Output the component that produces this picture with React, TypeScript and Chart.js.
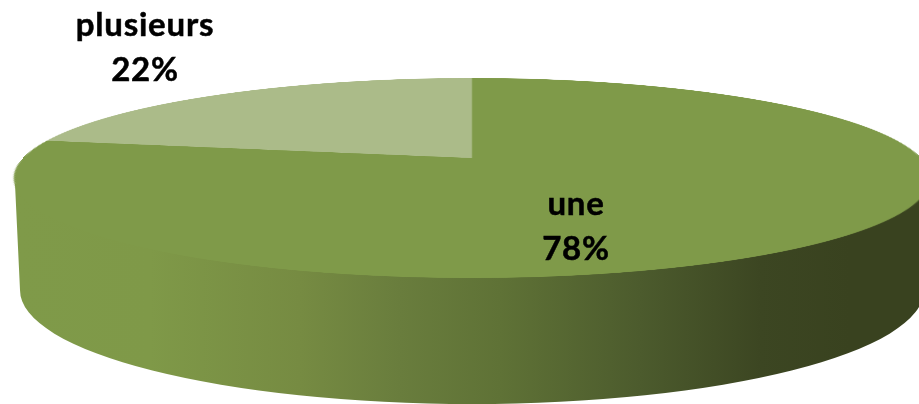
import React, { useEffect, useRef } from "react";
import { Chart, registerables } from "chart.js";

Chart.register(...registerables);

const categories = ["une", "plusieurs"];
const shares = [78, 22];
const sliceColors = ["#7f9a49", "#abbb89"];
const labelCentres = [
  [576, 204],
  [145, 25],
];
const wallStops: [number, string][] = [
  [14, "#7f9a49"],
  [150, "#7f9948"],
  [300, "#768b42"],
  [400, "#697d3d"],
  [500, "#5f7236"],
  [640, "#4c5b2d"],
  [760, "#3c4622"],
  [850, "#39421f"],
  [919, "#39421f"],
];

const CX = 472;
const FACE_D = 449;
const PERSP = 0.2;
const FACE_A = 64.4;
const FACE_B = 158;

const pieProjection = {
  id: "pieProjection",
  beforeDatasetsDraw(chart: any) {
    const ctx: CanvasRenderingContext2D = chart.ctx;
    // side wall
    const grad = ctx.createLinearGradient(0, 0, 919, 0);
    for (const [x, c] of wallStops) grad.addColorStop(x / 919, c);
    ctx.save();
    ctx.fillStyle = grad;
    ctx.beginPath();
    ctx.moveTo(15, 184);
    ctx.lineTo(20, 290);
    ctx.ellipse(CX, 290, 452, 114, 0, Math.PI, 0, true);
    ctx.lineTo(929, 184);
    ctx.closePath();
    ctx.fill();
    ctx.restore();

    // top face: the chart's own arcs, seen in perspective
    const arcs = chart.getDatasetMeta(0).data;
    const R = 1000;
    const off = document.createElement("canvas");
    off.width = R * 2;
    off.height = R * 2;
    const o = off.getContext("2d") as CanvasRenderingContext2D;
    const a0 = arcs[0];
    const k = R / a0.outerRadius;
    o.scale(k, k);
    o.translate(R / k - a0.x, R / k - a0.y);
    arcs.forEach((a: any) => a.draw(o));

    const vAt = (y: number) => (FACE_B - y) / (PERSP * y + FACE_A);
    ctx.save();
    ctx.imageSmoothingEnabled = true;
    ctx.imageSmoothingQuality = "high";
    for (let y = 78; y < 279; y++) {
      const v1 = Math.min(1, vAt(y));
      const v2 = Math.max(-1, vAt(y + 1));
      const vm = (v1 + v2) / 2;
      const w = 1 + PERSP * vm;
      const half = FACE_D / w;
      const sy = R - v1 * R;
      const sh = Math.max(1, (v1 - v2) * R);
      ctx.drawImage(off, 0, sy, R * 2, sh, CX - half, y, half * 2, 1);
    }
    ctx.restore();
    return false;
  },
  afterDraw(chart: any) {
    const ctx: CanvasRenderingContext2D = chart.ctx;
    const values: number[] = chart.data.datasets[0].data;
    const total = values.reduce((s, n) => s + n, 0);
    ctx.save();
    ctx.fillStyle = "#000";
    ctx.strokeStyle = "#000";
    ctx.lineWidth = 0.5;
    ctx.font = "bold 33px Lato";
    (ctx as any).letterSpacing = "0.8px";
    ctx.textAlign = "center";
    ctx.textBaseline = "middle";
    const put = (s: string, x: number, y: number) => {
      ctx.fillText(s, x, y);
      ctx.strokeText(s, x, y);
    };
    chart.data.labels.forEach((name: string, i: number) => {
      const [x, y] = labelCentres[i];
      put(name, x, y);
      put(Math.round((values[i] / total) * 100) + "%", x, y + 45);
    });
    ctx.restore();
  },
};

export default function App() {
  const ref = useRef<HTMLCanvasElement>(null);
  useEffect(() => {
    const chart = new Chart(ref.current as HTMLCanvasElement, {
      type: "pie",
      data: {
        labels: categories,
        datasets: [{ data: shares, backgroundColor: sliceColors, borderWidth: 0 }],
      },
      options: {
        responsive: false,
        animation: false,
        plugins: { legend: { display: false }, tooltip: { enabled: false } },
      },
      plugins: [pieProjection],
    } as any);
    return () => chart.destroy();
  }, []);
  return (
    <div style={{ position: "fixed", left: 0, top: 0, width: 919, height: 404, background: "#fff" }}>
      <canvas ref={ref} width={919} height={404} style={{ display: "block" }} />
    </div>
  );
}
